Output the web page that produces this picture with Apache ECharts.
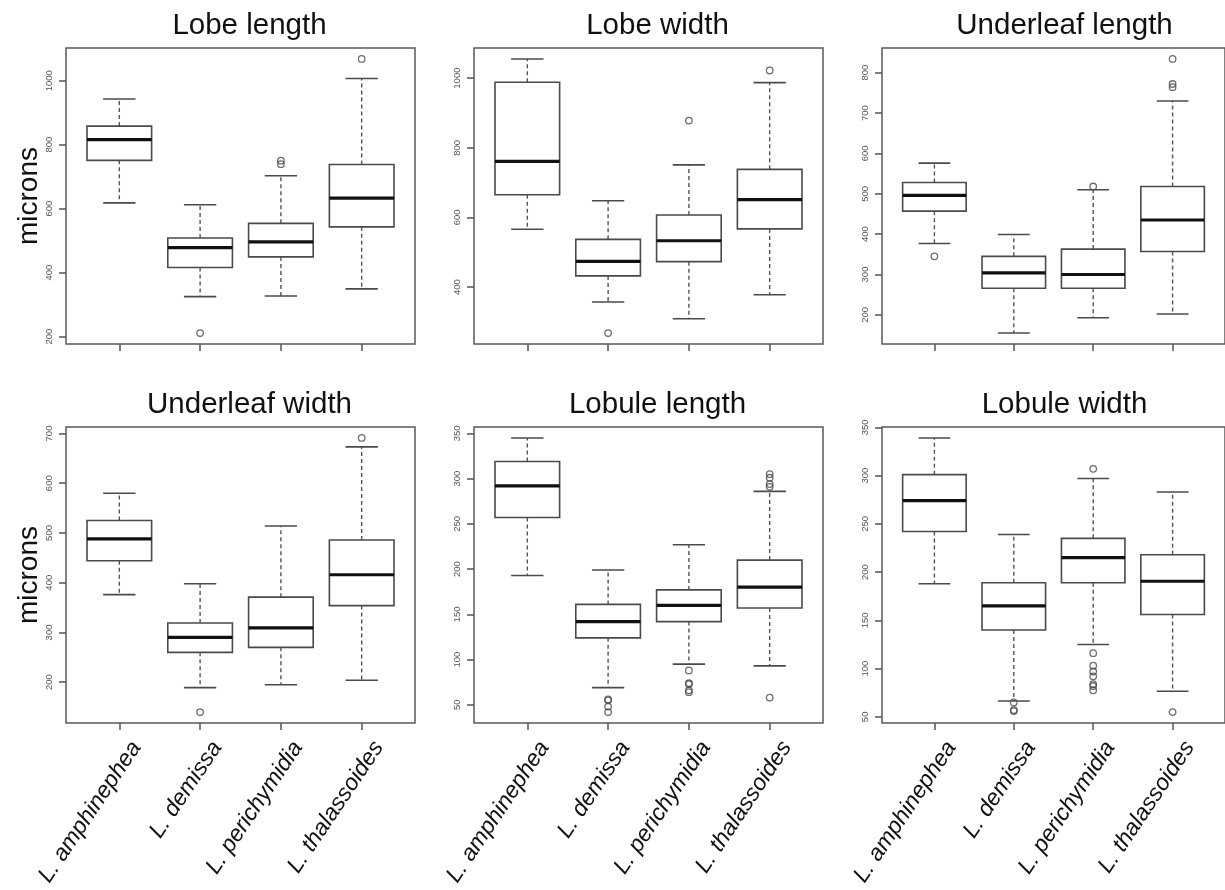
<!DOCTYPE html>
<html>
<head>
<meta charset="utf-8">
<script src="https://cdn.jsdelivr.net/npm/echarts@6/dist/echarts.min.js"></script>
<style>
html,body{margin:0;padding:0;background:#fff;}
#chart{width:1225px;height:890px;}
</style>
</head>
<body>
<div id="chart"></div>
<script>
// ---------------- DATA ----------------
const species = ['L. amphinephea', 'L. demissa', 'L. perichymidia', 'L. thalassoides'];
const panelTitles = ['Lobe length', 'Lobe width', 'Underleaf length', 'Underleaf width', 'Lobule length', 'Lobule width'];

// [lower whisker, Q1, median, Q3, upper whisker] per species
const lobeLengthStats = [[618, 751, 816, 858, 943], [325, 416, 478, 508, 612], [327, 449, 496, 554, 703], [349, 543, 633, 738, 1007]];
const lobeLengthOutliers = [[], [211], [739, 750], [1068]];

const lobeWidthStats = [[566, 665, 761, 988, 1055], [357, 432, 474, 537, 648], [309, 473, 533, 607, 751], [378, 567, 651, 738, 987]];
const lobeWidthOutliers = [[], [268], [878], [1022]];

const underleafLengthStats = [[377, 457, 496, 528, 576], [155, 266, 304, 345, 399], [193, 266, 300, 363, 510], [202, 357, 435, 518, 730]];
const underleafLengthOutliers = [[345], [], [518], [764, 772, 834]];

const underleafWidthStats = [[376, 444, 488, 525, 580], [189, 260, 290, 319, 398], [195, 270, 309, 371, 514], [204, 354, 416, 486, 673]];
const underleafWidthOutliers = [[], [140], [], [691]];

const lobuleLengthStats = [[193, 257, 292, 319, 345], [69, 124, 142, 161, 199], [95, 142, 160, 177, 227], [93, 157, 180, 210, 286]];
const lobuleLengthOutliers = [[], [56, 55, 48, 42], [88, 74, 73, 66, 64], [305, 301, 294, 291, 58]];

const lobuleWidthStats = [[188, 242, 274, 301, 339], [66.5, 140, 165, 189, 239], [125, 189, 215, 235, 297], [76.5, 156, 190.5, 218, 283]];
const lobuleWidthOutliers = [[], [65, 57, 56], [307, 116, 103, 97, 92, 84, 82, 77.5], [55]];

// y tick labels per panel
const lobeLengthTicks = [200, 400, 600, 800, 1000];
const lobeWidthTicks = [400, 600, 800, 1000];
const underleafLengthTicks = [200, 300, 400, 500, 600, 700, 800];
const underleafWidthTicks = [200, 300, 400, 500, 600, 700];
const lobuleLengthTicks = [50, 100, 150, 200, 250, 300, 350];
const lobuleWidthTicks = [50, 100, 150, 200, 250, 300, 350];

const yAxisLabel = 'microns';
// ---------------------------------------

const panels = [
  {stats: lobeLengthStats, out: lobeLengthOutliers, ticks: lobeLengthTicks},
  {stats: lobeWidthStats, out: lobeWidthOutliers, ticks: lobeWidthTicks},
  {stats: underleafLengthStats, out: underleafLengthOutliers, ticks: underleafLengthTicks},
  {stats: underleafWidthStats, out: underleafWidthOutliers, ticks: underleafWidthTicks},
  {stats: lobuleLengthStats, out: lobuleLengthOutliers, ticks: lobuleLengthTicks},
  {stats: lobuleWidthStats, out: lobuleWidthOutliers, ticks: lobuleWidthTicks}
];

const colLeft = [66, 474, 882];
const colWidth = [349, 349, 347];
const rowTop = [48, 427];
const plotH = 296;
const FONT = '"Liberation Sans", Arial, Helvetica, sans-serif';

const grids = [], xAxes = [], yAxes = [], series = [], titles = [];

panels.forEach((p, i) => {
  const col = i % 3, row = Math.floor(i / 3);
  grids.push({
    left: colLeft[col], top: rowTop[row], width: colWidth[col], height: plotH,
    show: true, borderColor: '#5a5a5a', borderWidth: 1.5, backgroundColor: 'transparent',
    containLabel: false
  });
  // R-style 4% extension of data range
  let lo = Infinity, hi = -Infinity;
  p.stats.forEach((s, k) => {
    lo = Math.min(lo, s[0], ...p.out[k]);
    hi = Math.max(hi, s[4], ...p.out[k]);
  });
  const ext = (hi - lo) * 0.04;
  const ymin = lo - ext, ymax = hi + ext;

  xAxes.push({
    type: 'value', gridIndex: i, min: 0.34, max: 4.66,
    axisLine: {show: false},
    splitLine: {show: false},
    axisTick: {show: true, customValues: [1, 2, 3, 4], length: 7, inside: false,
               lineStyle: {color: '#555', width: 1.5}},
    axisLabel: {
      show: row === 1, customValues: [1, 2, 3, 4],
      formatter: v => species[Math.round(v) - 1],
      rotate: 56, fontSize: 23, fontStyle: 'italic', fontFamily: FONT, color: '#111',
      margin: 9, verticalAlign: 'top', padding: [9, 0, 0, 0]
    }
  });
  yAxes.push({
    type: 'value', gridIndex: i, min: ymin, max: ymax,
    name: col === 0 ? yAxisLabel : '', nameLocation: 'middle', nameGap: 22, nameRotate: 90,
    nameTextStyle: {fontSize: 28, fontFamily: FONT, color: '#111'},
    axisLine: {show: false},
    splitLine: {show: false},
    axisTick: {show: true, customValues: p.ticks, length: 7, lineStyle: {color: '#555', width: 1.5}},
    axisLabel: {customValues: p.ticks, formatter: v => String(v), rotate: 90, fontSize: 9.5,
                fontFamily: FONT, color: '#555', margin: 12}
  });
  series.push({
    type: 'custom', xAxisIndex: i, yAxisIndex: i,
    data: p.stats.map((s, k) => [k + 1, ...s]),
    encode: {x: 0, y: [1, 2, 3, 4, 5]},
    renderItem: (params, api) => {
      const x = api.value(0), wl = api.value(1), q1 = api.value(2), md = api.value(3), q3 = api.value(4), wh = api.value(5);
      const c = (a, b) => api.coord([a, b]);
      const hw = 0.4, cw = 0.2;
      const tl = c(x - hw, q3), br = c(x + hw, q1);
      const mL = c(x - hw, md), mR = c(x + hw, md);
      const boxStroke = {stroke: '#4a4a4a', lineWidth: 1.6, fill: null};
      const dash = {stroke: '#555', lineWidth: 1.4, lineDash: [4, 3]};
      const mk = (a, b, st) => ({type: 'line', shape: {x1: a[0], y1: a[1], x2: b[0], y2: b[1]}, style: st});
      return {
        type: 'group',
        children: [
          mk(c(x, q3), c(x, wh), dash),
          mk(c(x, q1), c(x, wl), dash),
          mk(c(x - cw, wh), c(x + cw, wh), boxStroke),
          mk(c(x - cw, wl), c(x + cw, wl), boxStroke),
          {type: 'rect', shape: {x: tl[0], y: tl[1], width: br[0] - tl[0], height: br[1] - tl[1]},
           style: {stroke: '#4a4a4a', lineWidth: 1.6, fill: '#fff'}},
          mk(mL, mR, {stroke: '#111', lineWidth: 3.2})
        ]
      };
    }
  });
  const outData = [];
  p.out.forEach((arr, k) => arr.forEach(v => outData.push([k + 1, v])));
  series.push({
    type: 'scatter', xAxisIndex: i, yAxisIndex: i, data: outData,
    symbol: 'circle', symbolSize: 6.5,
    itemStyle: {color: 'transparent', borderColor: '#4a4a4a', borderWidth: 1.3},
    z: 5
  });
  titles.push({
    text: panelTitles[i],
    left: colLeft[col] + colWidth[col] / 2 + 4, textAlign: 'center',
    top: rowTop[row] - 42,
    textStyle: {fontSize: 29.5, fontWeight: 'normal', fontFamily: FONT, color: '#111'}
  });
});

const chart = echarts.init(document.getElementById('chart'), null, {renderer: 'canvas'});
chart.setOption({
  animation: false,
  backgroundColor: '#fff',
  title: titles,
  grid: grids,
  xAxis: xAxes,
  yAxis: yAxes,
  series: series
});
</script>
</body>
</html>
